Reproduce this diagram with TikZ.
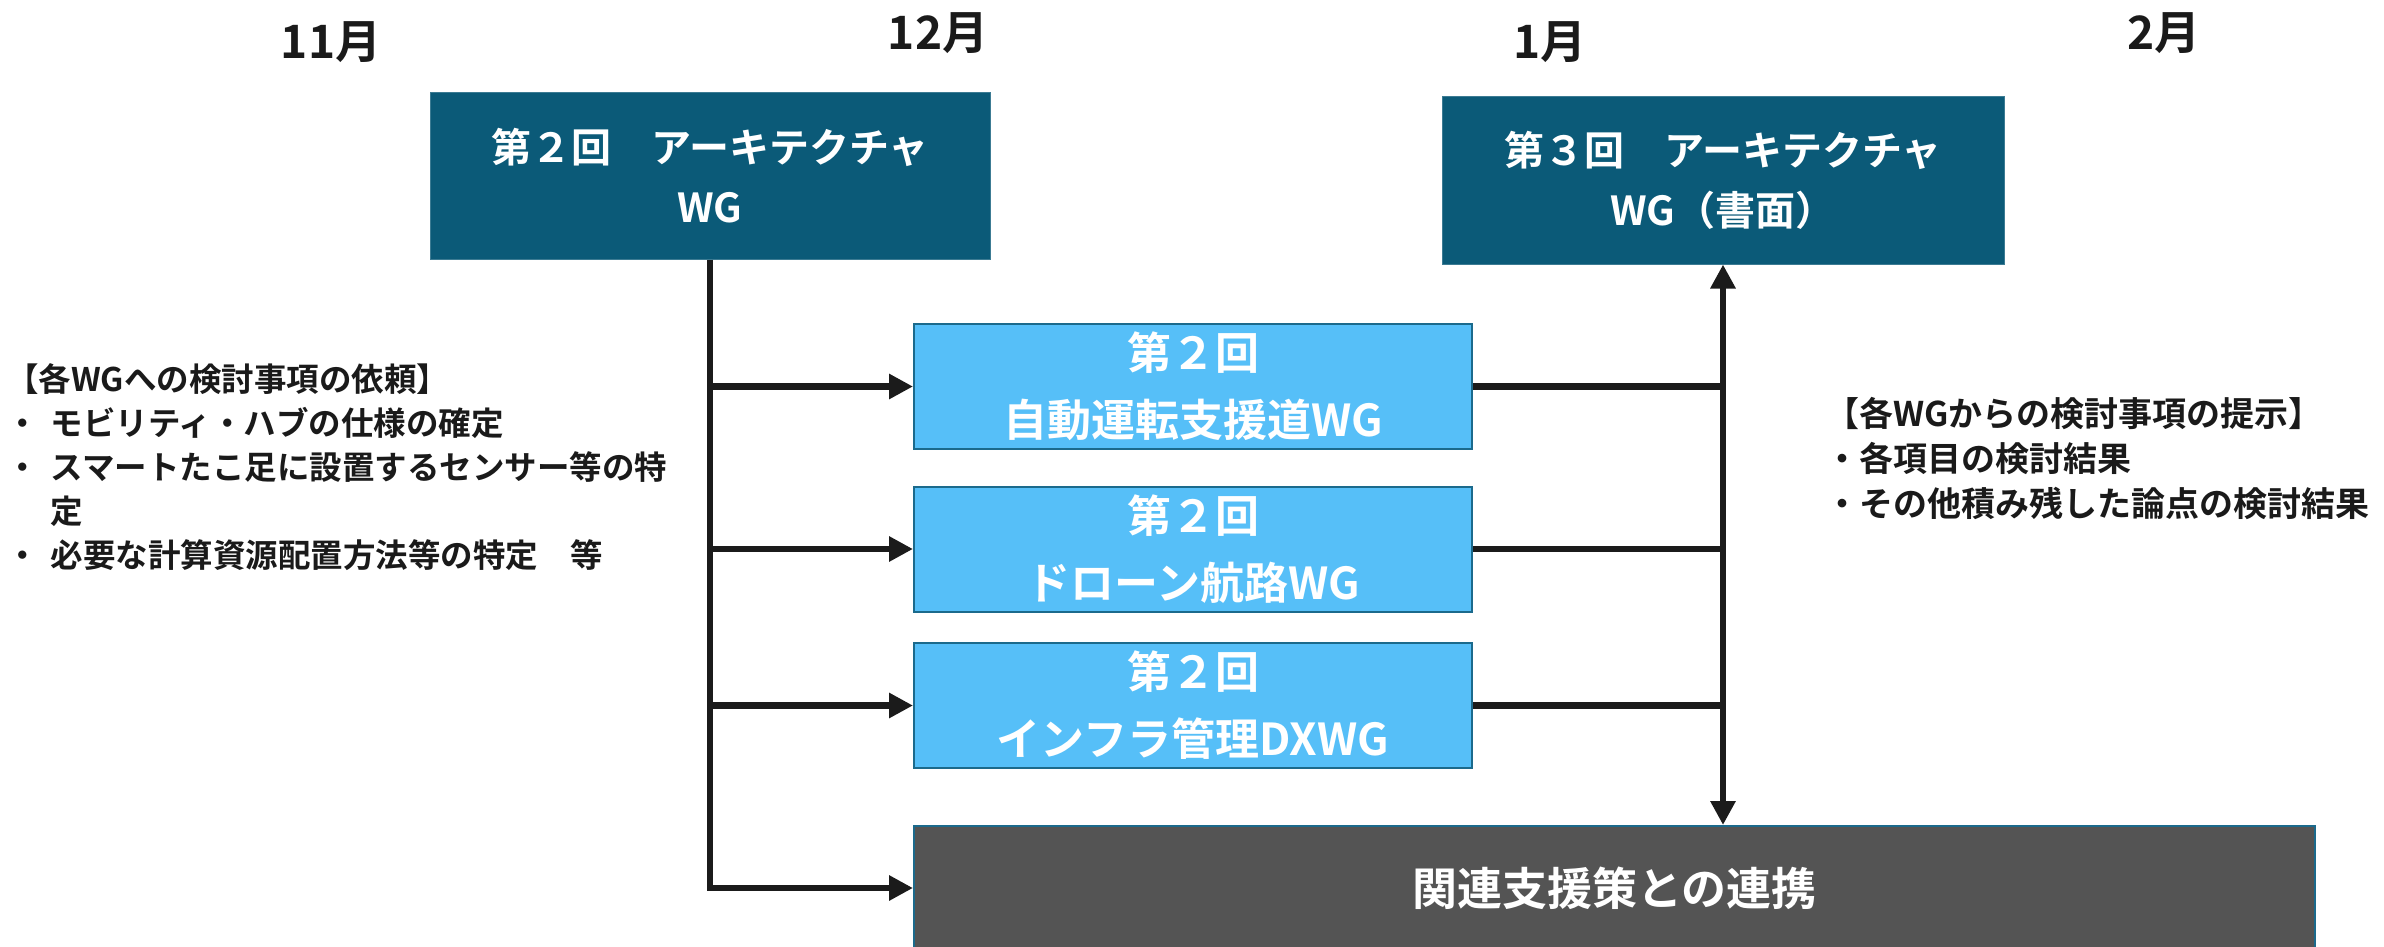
\documentclass[tikz,border=0pt]{standalone}
\usepackage{fontspec}
\setmainfont{Noto Sans CJK JP}[BoldFont={Noto Sans CJK JP Bold}]
\usetikzlibrary{arrows.meta}
\definecolor{wgteal}{HTML}{0B5A78}
\definecolor{wgblue}{HTML}{56BFF8}
\definecolor{wgblueedge}{HTML}{1B6A8C}
\definecolor{wggray}{HTML}{545454}
\definecolor{wgline}{HTML}{1B1B1B}
\definecolor{wgtext}{HTML}{1A1A1A}
\tikzset{
  darkbox/.style={fill=wgteal, draw=wgteal!80!white, line width=1pt, text=white, font=\bfseries\fontsize{40}{60}\selectfont, align=center, inner sep=0pt},
  bluebox/.style={fill=wgblue, draw=wgblueedge, line width=2pt, text=white, font=\bfseries\fontsize{44}{67}\selectfont, align=center, inner sep=0pt, minimum width=558pt, minimum height=125pt},
  graybox/.style={fill=wggray, draw=wgblueedge, line width=2pt, text=white, font=\bfseries\fontsize{45}{60}\selectfont, inner sep=0pt},
  month/.style={text=wgtext, font=\bfseries\fontsize{46}{50}\selectfont, inner sep=0pt},
  note/.style={text=wgtext, inner sep=0pt, anchor=west},
  conn/.style={draw=wgline, line width=6.5pt},
  arr/.style={conn, -{Triangle[length=24pt,width=24pt]}},
  darr/.style={conn, {Triangle[length=24pt,width=24pt]}-{Triangle[length=24pt,width=24pt]}}
}
\begin{document}
\begin{tikzpicture}[x=1pt,y=-1pt]
\useasboundingbox (0,0) rectangle (2384,947);

% months
\node[month] (m11) at (331,42) {11月};
\node[month] (m12) at (938,33) {12月};
\node[month] (m1)  at (1550,42) {1月};
\node[month] (m2)  at (2164,33) {2月};

% architecture WG boxes
\node[darkbox, minimum width=560pt, minimum height=166pt] (A) at (710,176) {第２回　アーキテクチャ\\WG};
\node[darkbox, minimum width=562pt, minimum height=167pt] (B) at (1723,180.5) {第３回　アーキテクチャ\\WG（書面）};

% sub WG boxes
\node[bluebox] (b1) at (1193,386.5) {第２回\\自動運転支援道WG};
\node[bluebox] (b2) at (1193,549) {第２回\\ドローン航路WG};
\node[bluebox] (b3) at (1193,705.5) {第２回\\インフラ管理DXWG};

% related support
\node[graybox, minimum width=1401pt, minimum height=124pt] (G) at (1614.5,888) {関連支援策との連携};

% left connectors
\draw[arr] (A.south) |- (G.west);
\draw[arr] (A.south |- b1.west) -- (b1.west);
\draw[arr] (A.south |- b2.west) -- (b2.west);
\draw[arr] (A.south |- b3.west) -- (b3.west);

% right connectors
\draw[darr] (B.south) -- (B.south |- G.north);
\draw[conn] (b1.east) -- (b1.east -| B.south);
\draw[conn] (b2.east) -- (b2.east -| B.south);
\draw[conn] (b3.east) -- (b3.east -| B.south);

% notes
\node[note, font=\bfseries\fontsize{32.5}{44}\selectfont] (req) at (6,471) {%
\begin{tabular}{@{}l@{\hspace{12pt}}l@{}}
\multicolumn{2}{@{}l@{}}{【各WGへの検討事項の依頼】}\\
・ & モビリティ・ハブの仕様の確定\\
・ & スマートたこ足に設置するセンサー等の特\\
   & 定\\
・ & 必要な計算資源配置方法等の特定　等
\end{tabular}};

\node[note, font=\bfseries\fontsize{34}{45}\selectfont] (res) at (1825,462) {%
\begin{tabular}{@{}l@{}}
【各WGからの検討事項の提示】\\
・各項目の検討結果\\
・その他積み残した論点の検討結果
\end{tabular}};
\end{tikzpicture}
\end{document}
